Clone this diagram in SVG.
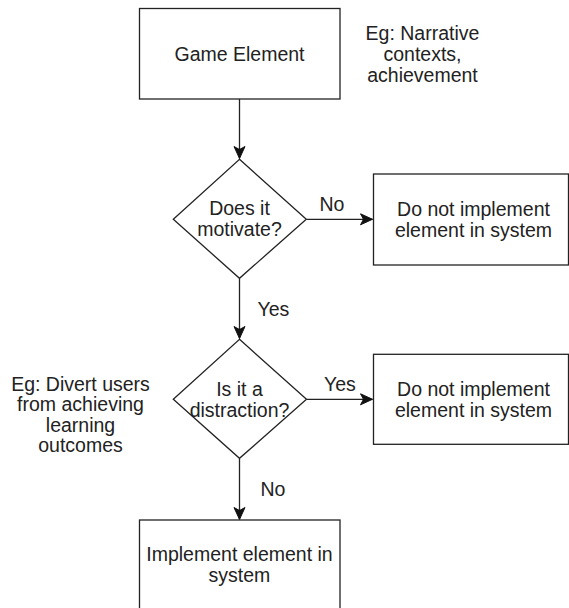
<svg xmlns="http://www.w3.org/2000/svg" width="569" height="608" viewBox="0 0 569 608">
<style>
.box{fill:#fff;stroke:#222;stroke-width:1.3}
.t{font-family:"Liberation Sans",Arial,sans-serif;font-size:19.5px;fill:#222;text-anchor:middle}
.lbl{font-family:"Liberation Sans",Arial,sans-serif;font-size:19.5px;fill:#222;text-anchor:start}
.edge{fill:none;stroke:#222;stroke-width:1.3}
</style>
<defs>
<marker id="arr" markerUnits="userSpaceOnUse" markerWidth="14" markerHeight="14" viewBox="0 0 14 14" refX="13" refY="7" orient="auto">
<path d="M1,1.5 L13,7 L1,12.5 L4,7 Z" fill="#111" stroke="#111" stroke-width="1"/>
</marker>
</defs>
<rect width="569" height="608" fill="#fff"/>
<g id="connectors">
<path class="edge" d="M239.5,99 V158.5" marker-end="url(#arr)"/>
<path class="edge" d="M306.5,219.3 H372.5" marker-end="url(#arr)"/>
<path class="edge" d="M239.5,278.5 V338.5" marker-end="url(#arr)"/>
<path class="edge" d="M306.5,399.3 H372.5" marker-end="url(#arr)"/>
<path class="edge" d="M239.5,458.5 V519.5" marker-end="url(#arr)"/>
<text class="lbl" x="319.5" y="211">No</text>
<text class="lbl" x="257.5" y="316">Yes</text>
<text class="lbl" x="324" y="391">Yes</text>
<text class="lbl" x="260.5" y="496">No</text>
</g>
<g id="game-element">
<rect class="box" x="139.5" y="8.5" width="200.5" height="90.5"/>
<text class="t" x="239.5" y="60.5">Game Element</text>
</g>
<g id="note-narrative">
<text class="t" x="422.5" y="39.5">Eg: Narrative</text>
<text class="t" x="422.5" y="60.5">contexts,</text>
<text class="t" x="422.5" y="81.5">achievement</text>
</g>
<g id="motivate">
<path class="box" d="M239.5,159.3 L306.3,219.3 L239.5,278.3 L173.3,219.3 Z"/>
<text class="t" x="239.5" y="214.5">Does it</text>
<text class="t" x="239.5" y="236">motivate?</text>
</g>
<g id="no-implement-1">
<rect class="box" x="373.5" y="174" width="195" height="91"/>
<text class="t" x="473.5" y="215.5">Do not implement</text>
<text class="t" x="473.5" y="236.5">element in system</text>
</g>
<g id="distraction">
<path class="box" d="M239.5,339.3 L306.5,399.3 L239.5,458.3 L173.3,399.3 Z"/>
<text class="t" x="239.5" y="395.7">Is it a</text>
<text class="t" x="239.5" y="417">distraction?</text>
</g>
<g id="note-divert">
<text class="t" x="80.5" y="390.7">Eg: Divert users</text>
<text class="t" x="80.5" y="411">from achieving</text>
<text class="t" x="80.5" y="431.5">learning</text>
<text class="t" x="80.5" y="451.7">outcomes</text>
</g>
<g id="no-implement-2">
<rect class="box" x="373.5" y="354.3" width="195" height="90"/>
<text class="t" x="473.5" y="395.7">Do not implement</text>
<text class="t" x="473.5" y="416.7">element in system</text>
</g>
<g id="implement">
<rect class="box" x="139.5" y="520" width="200.5" height="100"/>
<text class="t" x="239.5" y="560.7">Implement element in</text>
<text class="t" x="239.5" y="582">system</text>
</g>
</svg>
